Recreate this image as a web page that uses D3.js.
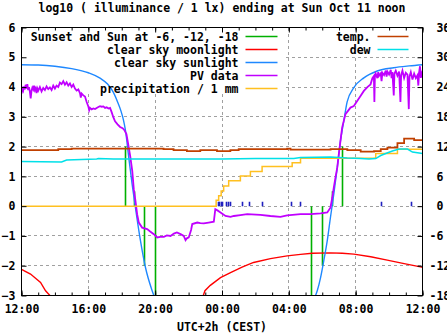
<!DOCTYPE html>
<html><head><meta charset="utf-8">
<script src="https://cdn.jsdelivr.net/npm/d3@7"></script>
<style>
body{margin:0;background:#fff}
svg{display:block}
text{font-family:"DejaVu Sans Mono",monospace;font-weight:bold;font-size:11.5px;fill:#000}
.rt text{white-space:pre}
</style></head><body>
<svg id="c" width="447" height="335"></svg>
<script>
// ---------- data (hours after Sat Oct 10 12:00, value) ----------
const titleText = "log10 ( illuminance / 1 lx) ending at Sun Oct 11 noon";
const xLabelText = "UTC+2h (CEST)";
const xTickHours = [0, 4, 8, 12, 16, 20, 24];
const xTickLabels = ["12:00", "16:00", "20:00", "00:00", "04:00", "08:00", "12:00"];
const yLeftTicks = [-3, -2, -1, 0, 1, 2, 3, 4, 5, 6];
const yRightTicks = [-18, -12, -6, 0, 6, 12, 18, 24, 30, 36];

// Sunset / sun at -6, -12, -18 (impulses: hour, height)
const sunEvents = [[6.24, 2.0], [6.78, 0.5], [7.38, -2.0], [8.04, -3.0],
                   [17.37, -3.0], [18.03, -2.0], [18.63, 0.5], [19.19, 2.0]];
// clear sky moonlight (null = below axis)
const moonlight = [[0, -2.12], [0.54, -2.28], [1.14, -2.56], [1.44, -2.84], [1.7, -3.0], [1.71, null],
  [10.88, -3.0], [10.98, -2.84], [11.3, -2.66], [11.91, -2.4], [12.51, -2.23], [13.2, -2.05], [13.89, -1.89],
  [14.9, -1.76], [15.9, -1.67], [16.7, -1.62], [17.4, -1.58], [18.5, -1.57], [19.2, -1.58], [19.89, -1.61],
  [20.9, -1.7], [21.89, -1.81], [22.9, -1.93], [23.88, -2.04], [24, -2.05]];
// clear sky sunlight
const sunlight = [[0, 4.75], [1, 4.74], [2, 4.7], [3, 4.62], [4, 4.48], [4.7, 4.3], [5.15, 4.1], [5.5, 3.82],
  [5.75, 3.5], [5.95, 3.2], [6.1, 2.9], [6.22, 2.55], [6.42, 1.63], [6.62, 0.74], [6.82, -0.05], [7.12, -1.16],
  [7.42, -2.06], [7.82, -2.84], [7.92, -3.0], [7.93, null],
  [17.6, -3.0], [17.7, -2.84], [17.9, -2.4], [18.09, -1.84], [18.3, -1.16], [18.49, -0.38], [18.69, 0.4],
  [18.9, 1.3], [19.09, 2.19], [19.29, 2.86], [19.49, 3.5], [19.89, 3.98], [20.49, 4.31], [21.29, 4.54],
  [22.28, 4.65], [23.2, 4.71], [24, 4.75]];
// PV data
const pvData = [[0, 3.78], [0.05, 3.95], [0.1, 3.88], [0.15, 4.02], [0.2, 3.92], [0.25, 4.08], [0.3, 3.95],
  [0.35, 4.1], [0.4, 3.9], [0.45, 4.0], [0.5, 3.85], [0.55, 3.62], [0.6, 3.88], [0.65, 3.98], [0.7, 3.92],
  [0.75, 4.05], [0.8, 3.9], [0.85, 3.96], [0.9, 3.8], [0.95, 3.95], [1.0, 3.88], [1.1, 4.0], [1.2, 3.85],
  [1.3, 3.97], [1.4, 3.9], [1.5, 4.02], [1.6, 3.93], [1.7, 3.99], [1.8, 3.9], [1.9, 4.05], [2.0, 3.95],
  [2.1, 4.05], [2.2, 4.0], [2.3, 4.15], [2.4, 4.1], [2.5, 4.2], [2.6, 4.08], [2.7, 4.16], [2.8, 4.05],
  [2.9, 4.12], [3.0, 4.0], [3.1, 4.08], [3.2, 3.95], [3.3, 3.88], [3.4, 3.92], [3.5, 3.8], [3.55, 3.65],
  [3.6, 3.78], [3.7, 3.72], [3.8, 3.68], [3.9, 3.5], [4.0, 3.35], [4.05, 3.22], [4.1, 3.3], [4.2, 3.25],
  [4.3, 3.28], [4.4, 3.26], [4.5, 3.3], [4.6, 3.33], [4.7, 3.36], [4.8, 3.34], [4.9, 3.35], [5.0, 3.3],
  [5.1, 3.32], [5.2, 3.28], [5.3, 3.3], [5.4, 3.15], [5.5, 2.98], [5.6, 2.85], [5.75, 2.75], [5.9, 2.66],
  [6.05, 2.62], [6.15, 2.56], [6.28, 2.42], [6.42, 1.97], [6.52, 1.63], [6.63, 1.18], [6.72, 0.57],
  [6.82, 0.18], [6.92, -0.27], [7.02, -0.55], [7.22, -0.72], [7.52, -0.77], [7.7, -0.85], [7.92, -0.94],
  [8.12, -1.05], [8.3, -1.03], [8.52, -1.03], [8.7, -0.98], [8.92, -1.0], [9.12, -0.92], [9.3, -0.88],
  [9.52, -0.94], [9.71, -1.0], [9.82, -1.14], [9.9, -1.08], [10.01, -1.05], [10.15, -0.8], [10.22, -0.6],
  [10.52, -0.55], [10.7, -0.57], [10.91, -0.58], [11.2, -0.55], [11.51, -0.52], [11.6, -0.1], [11.75, -0.15],
  [11.91, -0.21], [12.21, -0.33], [12.51, -0.36], [12.71, -0.33], [13.1, -0.3], [13.51, -0.27], [14.3, -0.29],
  [14.9, -0.33], [15.5, -0.36], [15.9, -0.31], [16.7, -0.27], [17.3, -0.27], [17.9, -0.24], [18.3, -0.21],
  [18.49, -0.05], [18.6, 0.29], [18.69, 0.62], [18.79, 0.96], [18.9, 1.3], [18.99, 1.74], [19.09, 2.19],
  [19.19, 2.64], [19.39, 3.09], [19.69, 3.31], [19.89, 3.36], [20.09, 3.53], [20.29, 3.7], [20.49, 3.87],
  [20.7, 4.0], [20.89, 4.09], [21.0, 4.3], [21.09, 4.37], [21.12, 3.5], [21.15, 4.35], [21.2, 4.45],
  [21.3, 4.3], [21.35, 4.5], [21.4, 4.38], [21.5, 4.46], [21.55, 4.2], [21.6, 4.48], [21.7, 4.4],
  [21.8, 4.55], [21.85, 4.35], [21.9, 4.52], [22.0, 4.42], [22.1, 4.58], [22.15, 4.3], [22.2, 4.5],
  [22.28, 3.72], [22.32, 4.45], [22.4, 4.55], [22.5, 4.38], [22.6, 4.52], [22.68, 3.5], [22.72, 4.4],
  [22.8, 4.55], [22.9, 4.3], [23.0, 4.48], [23.1, 4.42], [23.18, 3.26], [23.22, 4.35], [23.3, 4.5],
  [23.4, 4.25], [23.5, 4.45], [23.6, 4.3], [23.7, 4.4], [23.75, 4.05], [23.8, 4.5], [23.85, 4.7],
  [23.9, 4.31], [24.0, 4.55]];
// cumulative precipitation (step after)
const precipitation = [[0, 0], [11.65, 0.2], [11.8, 0.35], [11.95, 0.51], [12.1, 0.68], [12.4, 0.85],
  [13.1, 1.01], [13.7, 1.16], [14.4, 1.33], [16.2, 1.46], [16.7, 1.61], [21.2, 1.77], [22.5, 1.91], [24, 1.91]];
// precipitation events (impulses)
const rainTicks = [[11.81, 0.15], [11.87, 0.15], [11.95, 0.15], [12.01, 0.15], [12.27, 0.15], [12.37, 0.15],
  [12.53, 0.15], [13.25, 0.15], [13.66, 0.15], [14.42, 0.15], [16.18, 0.15], [16.7, 0.15], [21.53, 0.15], [23.32, 0.15]];
// temperature and dew point (°C, right axis)
const temperature = [[0, 11.3], [2.1, 11.3], [2.2, 11.5], [3.0, 11.6], [5.7, 11.6], [8.5, 11.5], [9.1, 11.3],
  [9.9, 11.1], [10.7, 11.3], [11.7, 11.1], [12.5, 11.3], [13.0, 11.5], [15.9, 11.6], [16.1, 11.4], [18.5, 11.5],
  [19.5, 11.3], [20.3, 11.0], [21.1, 11.1], [21.5, 11.5], [21.9, 11.8], [22.5, 12.7], [22.9, 13.6],
  [23.3, 13.6], [23.5, 13.3], [24, 13.3]];
const dewPoint = [[0, 9.0], [2.4, 8.9], [2.7, 9.3], [4.5, 9.5], [4.6, 9.6], [5.5, 9.5], [12, 9.5], [14, 9.6],
  [16.3, 9.6], [16.7, 9.8], [18.5, 9.9], [19.5, 9.7], [20.3, 9.6], [20.8, 9.5], [21.2, 9.6], [21.5, 10.2],
  [21.8, 10.6], [22.2, 11.1], [22.6, 11.5], [23.1, 11.5], [23.4, 10.9], [24, 10.6]];

const leftKey = ["Sunset and Sun at -6, -12, -18", "clear sky moonlight", "clear sky sunlight", "PV data", "precipitation / 1 mm"];
const rightKey = ["temp.", "dew"];

// ---------- styles ----------
const C = {sun: "#00b000", moon: "#ff0000", sky: "#1e88ff", pv: "#c000ff", rain: "#ffc020",
           temp: "#c04000", dew: "#00e0e8", tick: "#2020c0", grid: "#a0a0a0"};
const leftColors = [C.sun, C.moon, C.sky, C.pv, C.rain];
const rightColors = [C.temp, C.dew];

const svg = d3.select("#c");
const start = new Date(2020, 9, 10, 12, 0).getTime();
const t = h => new Date(start + h * 3600e3);
const L = 21, R = 422, T = 27, B = 295;
const x = d3.scaleTime().domain([t(0), t(24)]).range([L, R]);
const yL = d3.scaleLinear().domain([-3, 6]).range([B, T]);
const yR = d3.scaleLinear().domain([-18, 36]).range([B, T]);

const g = svg.append("g").attr("transform", "translate(0.5,0.5)");
g.append("clipPath").attr("id", "clip").append("rect").attr("x", L).attr("y", T).attr("width", R - L).attr("height", B - T);

// grid
const grid = g.append("g").attr("stroke", C.grid).attr("stroke-dasharray", "3,3").attr("shape-rendering", "crispEdges");
grid.selectAll(".gx").data(xTickHours.slice(1, -1)).join("line")
  .attr("x1", d => Math.round(x(t(d)))).attr("x2", d => Math.round(x(t(d)))).attr("y1", T).attr("y2", B);
grid.selectAll(".gy").data(yLeftTicks.slice(1, -1)).join("line")
  .attr("y1", d => Math.round(yL(d))).attr("y2", d => Math.round(yL(d))).attr("x1", L).attr("x2", R);

// opaque key backgrounds (cover grid, under data)
g.append("rect").attr("x", L + 1).attr("y", T + 1).attr("width", 261).attr("height", 65).attr("fill", "#fff");
g.append("rect").attr("x", 292).attr("y", T + 1).attr("width", R - 293).attr("height", 27).attr("fill", "#fff");

const plot = g.append("g").attr("clip-path", "url(#clip)");
const lineL = d3.line().defined(d => d[1] !== null).x(d => x(t(d[0]))).y(d => yL(d[1]));
const lineR = d3.line().x(d => x(t(d[0]))).y(d => yR(d[1]));

// sun events impulses
plot.selectAll(".sun").data(sunEvents).join("line")
  .attr("x1", d => Math.round(x(t(d[0])))).attr("x2", d => Math.round(x(t(d[0]))))
  .attr("y1", yL(0)).attr("y2", d => yL(d[1])).attr("stroke", C.sun).attr("stroke-width", 1.6);
plot.append("path").datum(moonlight).attr("d", lineL).attr("fill", "none").attr("stroke", C.moon).attr("stroke-width", 1.4);
plot.append("path").datum(sunlight).attr("d", lineL.curve(d3.curveMonotoneX)).attr("fill", "none").attr("stroke", C.sky).attr("stroke-width", 1.4);
lineL.curve(d3.curveLinear);
plot.append("path").datum(pvData).attr("d", lineL).attr("fill", "none").attr("stroke", C.pv).attr("stroke-width", 1.8).attr("stroke-linejoin", "miter");
plot.append("path").datum(precipitation).attr("d", d3.line().curve(d3.curveStepAfter).x(d => x(t(d[0]))).y(d => yL(d[1])))
  .attr("fill", "none").attr("stroke", C.rain).attr("stroke-width", 1.5);
plot.selectAll(".rt").data(rainTicks).join("line")
  .attr("x1", d => Math.round(x(t(d[0])))).attr("x2", d => Math.round(x(t(d[0]))))
  .attr("y1", yL(0)).attr("y2", d => yL(d[1])).attr("stroke", C.tick).attr("stroke-width", 1.6);
plot.append("path").datum(temperature).attr("d", lineR.curve(d3.curveStepAfter)).attr("fill", "none").attr("stroke", C.temp).attr("stroke-width", 1.8);
plot.append("path").datum(dewPoint).attr("d", lineR.curve(d3.curveLinear)).attr("fill", "none").attr("stroke", C.dew).attr("stroke-width", 1.5);

// key entries
const lk = g.append("g");
leftKey.forEach((s, i) => {
  const yy = 36 + i * 13;
  lk.append("text").attr("x", 238).attr("y", yy + 4).attr("text-anchor", "end").text(s);
  lk.append("line").attr("x1", 245).attr("x2", 277).attr("y1", yy).attr("y2", yy).attr("stroke", leftColors[i]).attr("stroke-width", 1.5);
});
rightKey.forEach((s, i) => {
  const yy = 36 + i * 13;
  lk.append("text").attr("x", 370).attr("y", yy + 4).attr("text-anchor", "end").text(s);
  lk.append("line").attr("x1", 377).attr("x2", 408).attr("y1", yy).attr("y2", yy).attr("stroke", rightColors[i]).attr("stroke-width", 1.5);
});

// axes
const ax = g.append("g");
ax.append("g").attr("transform", `translate(0,${B})`)
  .call(d3.axisBottom(x).tickValues(xTickHours.map(t)).tickFormat((d, i) => xTickLabels[i]).tickSizeInner(-5).tickSizeOuter(0).tickPadding(9));
ax.append("g").attr("transform", `translate(0,${B})`)
  .call(d3.axisBottom(x).ticks(d3.timeHour.every(1)).tickFormat("").tickSizeInner(-3).tickSizeOuter(0));
ax.append("g").attr("transform", `translate(0,${T})`)
  .call(d3.axisTop(x).tickValues(xTickHours.map(t)).tickFormat("").tickSizeInner(-5).tickSizeOuter(0));
ax.append("g").attr("transform", `translate(0,${T})`)
  .call(d3.axisTop(x).ticks(d3.timeHour.every(1)).tickFormat("").tickSizeInner(-3).tickSizeOuter(0));
ax.append("g").attr("transform", `translate(${L},0)`)
  .call(d3.axisLeft(yL).tickValues(yLeftTicks).tickFormat(d3.format("d")).tickSizeInner(-5).tickSizeOuter(0).tickPadding(6));
ax.append("g").attr("class", "rt").attr("transform", `translate(${R},0)`)
  .call(d3.axisRight(yR).tickValues(yRightTicks).tickFormat(d => (d < 0 ? "" : " ") + d).tickSizeInner(-5).tickSizeOuter(0).tickPadding(7));
ax.selectAll(".domain").remove();
ax.selectAll(".tick line").attr("stroke", "#000");
ax.selectAll("text").attr("font-family", null).attr("font-size", null).attr("fill", "#000");
g.append("rect").attr("x", L).attr("y", T).attr("width", R - L).attr("height", B - T)
  .attr("fill", "none").attr("stroke", "#000").attr("shape-rendering", "crispEdges");

svg.append("text").attr("x", 222).attr("y", 12).attr("text-anchor", "middle").text(titleText);
svg.append("text").attr("x", 222).attr("y", 331).attr("text-anchor", "middle").text(xLabelText);
</script></body></html>
